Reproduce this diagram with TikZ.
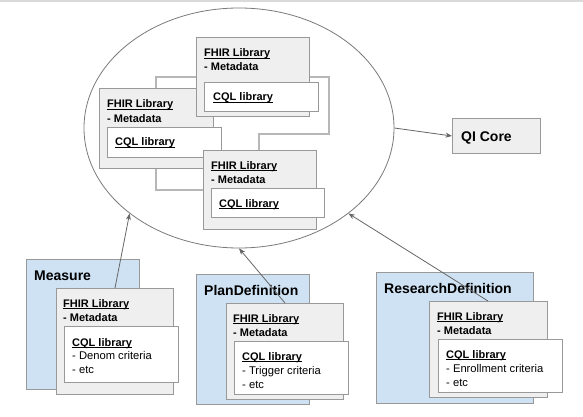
\documentclass[tikz,border=0pt]{standalone}
\usepackage{fontspec}
\setmainfont{Liberation Sans}
\usetikzlibrary{shapes.geometric,arrows.meta,calc,backgrounds}
\definecolor{boxgray}{HTML}{999999}
\definecolor{libfill}{HTML}{EFEFEF}
\definecolor{resblue}{HTML}{CFE2F3}
\definecolor{ellline}{HTML}{7A7A7A}
\definecolor{arrcol}{HTML}{666666}
\definecolor{conncol}{HTML}{B7B7B7}
\definecolor{topcol}{HTML}{DADADA}
\newcommand{\myul}[1]{\setbox0\hbox{#1}\rlap{\rule[-1.7pt]{\wd0}{0.8pt}}\box0}
\tikzset{
  bx/.style={rectangle, anchor=north west, inner sep=0pt, outer sep=0pt, draw=boxgray, line width=1pt},
  libbox/.style={bx, fill=libfill},
  cqlbox/.style={bx, fill=white},
  resbox/.style={bx, fill=resblue},
  lbl/.style={anchor=base west, inner sep=0pt, font=\fontsize{11.2}{13}\selectfont},
  blbl/.style={lbl, font=\fontsize{11}{13}\selectfont\bfseries},
  ttl/.style={anchor=base west, inner sep=0pt, font=\fontsize{14}{16}\selectfont\bfseries},
  conn/.style={draw=conncol, line width=2pt},
  arr/.style={draw=arrcol, line width=0.8pt, -{Stealth[length=6.5pt,width=5pt]}},
}
\newcommand{\mybox}[6]{\node[#1, minimum width=#5-#3, minimum height=#6-#4] (#2) at (#3,#4) {};}
\begin{document}
\begin{tikzpicture}[x=1pt,y=-1pt]
\useasboundingbox (0,0) rectangle (583,417);
\draw[topcol, line width=1.5pt] (0,1) coordinate (tl) -- (583,1) coordinate (tr);

% ellipse
\node[ellipse, draw=ellline, line width=0.8pt, minimum width=310, minimum height=240, inner sep=0pt] (ell) at (239,128) {};

% left library
\mybox{libbox}{llib}{99}{89}{213}{168}
\node[blbl] (llibt1) at (107,108) {\myul{FHIR Library}};
\node[blbl] (llibt2) at (107,122) {- Metadata};
\mybox{cqlbox}{lcql}{107}{127}{221}{157}
\node[blbl] (lcqlt) at (115,146) {\myul{CQL library}};

% top library
\mybox{libbox}{tlib}{196}{38}{309}{117}
\node[blbl] (tlibt1) at (204,57) {\myul{FHIR Library}};
\node[blbl] (tlibt2) at (204,71) {- Metadata};
\mybox{cqlbox}{tcql}{204}{83}{318}{112}
\node[blbl] (tcqlt) at (213,101) {\myul{CQL library}};

% bottom library
\mybox{libbox}{blib}{203}{150}{316}{229}
\node[blbl] (blibt1) at (211,169) {\myul{FHIR Library}};
\node[blbl] (blibt2) at (211,183) {- Metadata};
\mybox{cqlbox}{bcql}{211}{188}{324}{217}
\node[blbl] (bcqlt) at (219,207) {\myul{CQL library}};

% connectors behind the boxes
\begin{scope}[on background layer]
\fill[white] (0,0) rectangle (583,417);
\draw[conn] ($(llib.north west)+(57,0)$) |- (tlib.west);
\draw[conn] (tlib.east) -- ++(20,0) -- ++(0,56.5) -| ($(blib.north west)+(56,0)$);
\draw[conn] ($(llib.south west)+(57,0)$) |- (blib.west);
\end{scope}

% QI Core
\mybox{libbox}{qi}{452}{119}{540}{153}
\node[ttl] (qit) at (461,141) {QI Core};
\draw[arr] (ell.east) -- (qi.west);

% Measure
\mybox{resbox}{meas}{26}{259}{139}{389}
\node[ttl] (meast) at (34,280) {Measure};
\mybox{libbox}{mfhir}{56}{288}{173}{394}
\node[blbl] (mfhirt1) at (63,307) {\myul{FHIR Library}};
\node[blbl] (mfhirt2) at (63,321) {- Metadata};
\mybox{cqlbox}{mcql}{64}{326}{178}{382}
\node[blbl] (mcqlt1) at (72,346) {\myul{CQL library}};
\node[lbl] (mcqlt2) at (72,359) {- Denom criteria};
\node[lbl] (mcqlt3) at (72,373) {- etc};

% PlanDefinition
\mybox{resbox}{plan}{196}{274}{309}{404}
\node[ttl] (plant) at (204,295) {PlanDefinition};
\mybox{libbox}{pfhir}{226}{303}{343}{399}
\node[blbl] (pfhirt1) at (233,322) {\myul{FHIR Library}};
\node[blbl] (pfhirt2) at (233,336) {- Metadata};
\mybox{cqlbox}{pcql}{234}{341}{348}{394}
\node[blbl] (pcqlt1) at (242,360) {\myul{CQL library}};
\node[lbl] (pcqlt2) at (242,374) {- Trigger criteria};
\node[lbl] (pcqlt3) at (242,388) {- etc};

% ResearchDefinition
\mybox{resbox}{rsch}{376}{272}{533}{403}
\node[ttl] (rscht) at (384,293) {ResearchDefinition};
\mybox{libbox}{rfhir}{429}{301}{547}{397}
\node[blbl] (rfhirt1) at (437,320) {\myul{FHIR Library}};
\node[blbl] (rfhirt2) at (437,334) {- Metadata};
\mybox{cqlbox}{rcql}{438}{339}{562}{392}
\node[blbl] (rcqlt1) at (446,358) {\myul{CQL library}};
\node[lbl] (rcqlt2) at (446,372) {- Enrollment criteria};
\node[lbl] (rcqlt3) at (446,386) {- etc};

% arrows to ellipse
\draw[arr] ($(mfhir.north west)+(59,0)$) -- (ell.218.7);
\draw[arr] ($(pfhir.north west)+(59,0)$) -- (ell.270.5);
\draw[arr] ($(rfhir.north west)+(59,0)$) -- (ell.322.6);
\end{tikzpicture}
\end{document}
